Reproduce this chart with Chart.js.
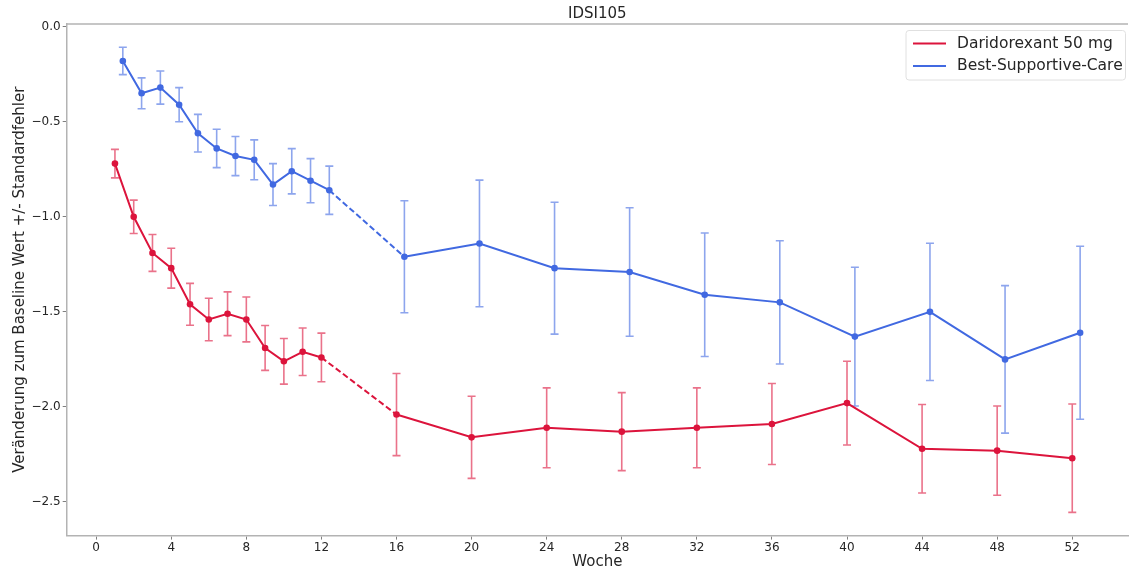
<!DOCTYPE html>
<html>
<head>
<meta charset="utf-8">
<script src="https://cdn.jsdelivr.net/npm/chart.js@4/dist/chart.umd.min.js"></script>
<style>
html,body{margin:0;padding:0;background:#fff;}
#wrap{width:1132px;height:576px;position:relative;}
canvas{display:block;}
</style>
</head>
<body>
<div id="wrap"><canvas id="c" width="1132" height="576"></canvas></div>
<script>
// ---- data ----
const weeks = [1,2,3,4,5,6,7,8,9,10,11,12,16,20,24,28,32,36,40,44,48,52];
const dashedAfterWeek = 12; // segment 12 -> 16 drawn dashed
const xTicks = [0,4,8,12,16,20,24,28,32,36,40,44,48,52];
const yTicks = [0,-0.5,-1.0,-1.5,-2.0,-2.5];
const daridorexantMean = [-0.72,-1.00,-1.19,-1.27,-1.46,-1.54,-1.51,-1.54,-1.69,-1.76,-1.71,-1.74,-2.04,-2.16,-2.11,-2.13,-2.11,-2.09,-1.98,-2.22,-2.23,-2.27];
const daridorexantSE   = [0.075,0.088,0.097,0.105,0.110,0.112,0.115,0.118,0.118,0.120,0.125,0.128,0.216,0.216,0.210,0.205,0.210,0.213,0.220,0.233,0.235,0.285];
const bscMean = [-0.18,-0.35,-0.32,-0.41,-0.56,-0.64,-0.68,-0.70,-0.83,-0.76,-0.81,-0.86,-1.21,-1.14,-1.27,-1.29,-1.41,-1.45,-1.63,-1.50,-1.75,-1.61];
const bscSE   = [0.072,0.081,0.087,0.090,0.099,0.101,0.103,0.105,0.110,0.119,0.116,0.127,0.295,0.333,0.347,0.338,0.325,0.324,0.365,0.361,0.388,0.455];
const seriesLabels = ['Daridorexant 50 mg','Best-Supportive-Care'];
const chartTitle = 'IDSI105';
const xTitle = 'Woche';
const yTitle = 'Veränderung zum Baseline Wert +/- Standardfehler';

// ---- styling ----
const FONT = "'DejaVu Sans', sans-serif";
Chart.defaults.font.family = FONT;
const RED = '#dc143c', RED_ERR = 'rgba(220,20,60,0.6)';
const BLUE = '#4169e1', BLUE_ERR = 'rgba(65,105,225,0.6)';
const BLUE_DODGE = 0.42; // horizontal dodge (weeks) of the second series
const TEXT = '#262626';
const SPINE = '#b3b3b3';
const dashIdx = weeks.indexOf(dashedAfterWeek);

function mkData(xs, ys, dx){ return xs.map((w,i)=>({x:w+dx, y:ys[i]})); }

const datasets = [
  {label: seriesLabels[0], data: mkData(weeks, daridorexantMean, 0), se: daridorexantSE,
   borderColor: RED, backgroundColor: RED, errColor: RED_ERR},
  {label: seriesLabels[1], data: mkData(weeks, bscMean, BLUE_DODGE), se: bscSE,
   borderColor: BLUE, backgroundColor: BLUE, errColor: BLUE_ERR}
].map(d => Object.assign(d, {
  borderWidth: 2, pointRadius: 3.3, pointBorderWidth: 0, pointBackgroundColor: d.borderColor,
  tension: 0, fill: false, borderDash: [],
  segment: { borderDash: ctx => (ctx.p0DataIndex === dashIdx ? [6,3] : []) }
}));

const errorBars = {
  id: 'errorBars',
  beforeDatasetsDraw(chart){
    const {ctx, scales:{x, y}} = chart;
    ctx.save();
    chart.data.datasets.forEach(ds => {
      ctx.strokeStyle = ds.errColor;
      ctx.lineWidth = 1.6;
      ds.data.forEach((p,i) => {
        const px = x.getPixelForValue(p.x);
        const y1 = y.getPixelForValue(p.y + ds.se[i]);
        const y2 = y.getPixelForValue(p.y - ds.se[i]);
        ctx.beginPath();
        ctx.moveTo(px, y1); ctx.lineTo(px, y2);
        ctx.moveTo(px-4, y1); ctx.lineTo(px+4, y1);
        ctx.moveTo(px-4, y2); ctx.lineTo(px+4, y2);
        ctx.stroke();
      });
    });
    ctx.restore();
  }
};

const frameTitleLegend = {
  id: 'frameTitleLegend',
  afterDraw(chart){
    const {ctx, chartArea:a} = chart;
    ctx.save();
    // top spine
    ctx.strokeStyle = SPINE; ctx.lineWidth = 1.5;
    ctx.beginPath(); ctx.moveTo(a.left, a.top); ctx.lineTo(a.right, a.top); ctx.stroke();
    // title
    ctx.fillStyle = TEXT; ctx.font = "15px " + FONT;
    ctx.textAlign = 'center'; ctx.textBaseline = 'middle';
    ctx.fillText(chartTitle, (a.left + a.right)/2, 14);
    // legend
    const bx = 906, by = 30.5, bw = 219.5, bh = 49.5, r = 3;
    ctx.fillStyle = 'rgba(255,255,255,0.85)';
    ctx.strokeStyle = '#e0e0e0'; ctx.lineWidth = 1;
    ctx.beginPath();
    ctx.moveTo(bx+r, by); ctx.lineTo(bx+bw-r, by); ctx.arcTo(bx+bw, by, bx+bw, by+r, r);
    ctx.lineTo(bx+bw, by+bh-r); ctx.arcTo(bx+bw, by+bh, bx+bw-r, by+bh, r);
    ctx.lineTo(bx+r, by+bh); ctx.arcTo(bx, by+bh, bx, by+bh-r, r);
    ctx.lineTo(bx, by+r); ctx.arcTo(bx, by, bx+r, by, r);
    ctx.closePath(); ctx.fill(); ctx.stroke();
    ctx.font = "15.5px " + FONT; ctx.textAlign = 'left';
    chart.data.datasets.forEach((ds, i) => {
      const cy = 43.5 + i*22.5;
      ctx.strokeStyle = ds.borderColor; ctx.lineWidth = 2; ctx.setLineDash([]);
      ctx.beginPath(); ctx.moveTo(913, cy); ctx.lineTo(946, cy); ctx.stroke();
      ctx.fillStyle = TEXT;
      ctx.fillText(ds.label, 957, cy);
    });
    ctx.restore();
  }
};

const fmtY = v => (v < 0 ? '\u2212' : '') + Math.abs(v).toFixed(1);

new Chart(document.getElementById('c'), {
  type: 'line',
  data: { datasets },
  options: {
    responsive: false, animation: false, devicePixelRatio: 1,
    layout: { padding: { top: 23.9, right: 0, bottom: 0, left: 0 } },
    plugins: { legend: {display:false}, title: {display:false}, tooltip: {enabled:false} },
    scales: {
      x: {
        type: 'linear', min: -1.57, max: 54.97,
        afterBuildTicks: s => { s.ticks = xTicks.map(v => ({value: v})); },
        afterFit: s => { s.height = 40.4; },
        ticks: { color: TEXT, font: {size: 12}, padding: 1, autoSkip: false, maxRotation: 0,
                 callback: v => String(v) },
        grid: { drawOnChartArea: false, tickLength: 4, color: '#808080', lineWidth: 1 },
        border: { color: SPINE, width: 1.5 },
        title: { display: true, text: xTitle, color: TEXT, font: {size: 15}, padding: {top: 0, bottom: 5} }
      },
      y: {
        type: 'linear', min: -2.677, max: 0.015,
        afterBuildTicks: s => { s.ticks = yTicks.map(v => ({value: v})); },
        afterFit: s => { s.width = 66.7; },
        ticks: { color: TEXT, font: {size: 12}, padding: 2, callback: v => fmtY(v) },
        grid: { drawOnChartArea: false, tickLength: 4, color: '#808080', lineWidth: 1 },
        border: { color: SPINE, width: 1.5 },
        title: { display: true, text: yTitle, color: TEXT, font: {size: 15}, padding: {top: 11, bottom: 0} }
      }
    }
  },
  plugins: [errorBars, frameTitleLegend]
});
</script>
</body>
</html>
